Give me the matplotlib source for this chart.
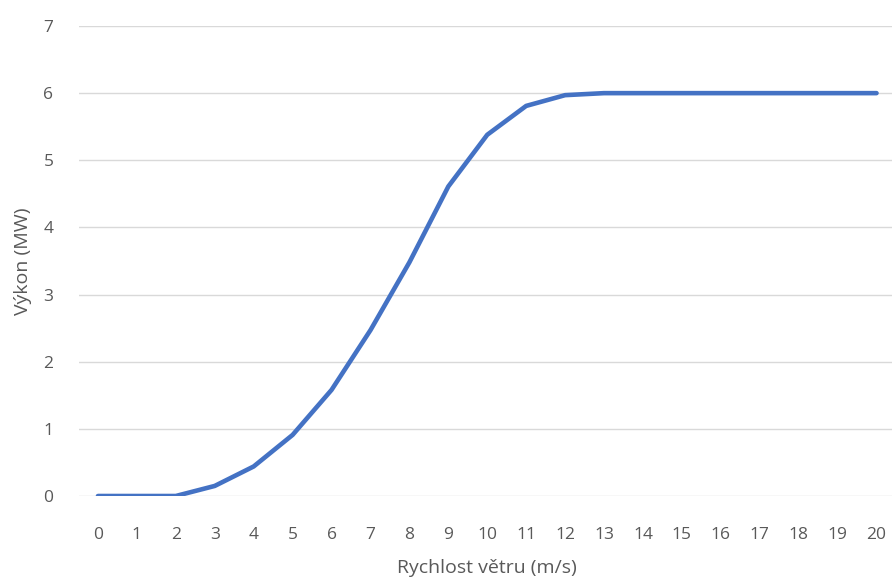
import matplotlib.pyplot as plt

# Power curve of the turbine
speeds = list(range(0, 21))
power = [0, 0, 0, 0.15, 0.44, 0.91, 1.58, 2.47, 3.48, 4.61, 5.38, 5.81, 5.97, 6.0,
         6.0, 6.0, 6.0, 6.0, 6.0, 6.0, 6.0]
y_ticks = [0, 1, 2, 3, 4, 5, 6, 7]

plt.rcParams['font.family'] = ['Open Sans', 'DejaVu Sans']
text_color = '#595959'

fig = plt.figure(figsize=(8.92, 5.79), dpi=100)
ax = fig.add_axes([78.5 / 892, 83 / 579, 817.5 / 892, 470 / 579])

ax.plot(speeds, power, color='#4472C4', linewidth=3.3, solid_capstyle='round',
        solid_joinstyle='round', zorder=3)

ax.set_xlim(-0.5, 20.5)
ax.set_ylim(0, 7)
ax.set_xticks(speeds)
ax.set_yticks(y_ticks)
ax.grid(axis='y', color='#d9d9d9', linewidth=1.0)
ax.set_axisbelow(True)
for side in ['top', 'right', 'left', 'bottom']:
    ax.spines[side].set_visible(False)
ax.tick_params(length=0, labelsize=12.5, colors=text_color)
ax.tick_params(axis='x', pad=22)
ax.tick_params(axis='y', pad=18)

ax.set_xlabel('Rychlost větru (m/s)', fontsize=14, color=text_color, labelpad=12)
ax.set_ylabel('Výkon (MW)', fontsize=14, color=text_color, labelpad=8)

fig.savefig('out.png', dpi=100)
